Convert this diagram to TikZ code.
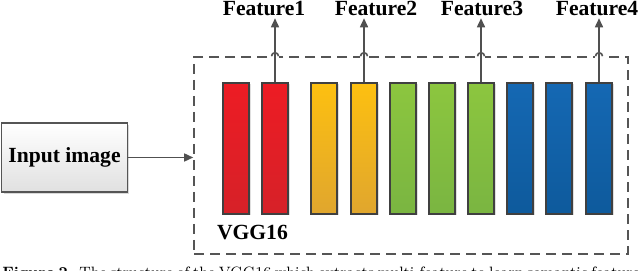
\documentclass[tikz,border=0pt]{standalone}
\usepackage{fontspec}
\newfontfamily\labelfont{Liberation Serif}
\usetikzlibrary{arrows.meta,shadows}
\definecolor{lineGray}{RGB}{80,80,80}
\definecolor{dashGray}{RGB}{85,85,85}
\definecolor{barEdge}{RGB}{64,64,64}
\definecolor{redTop}{RGB}{237,28,36}
\definecolor{redBot}{RGB}{214,33,40}
\definecolor{yellowTop}{RGB}{253,192,16}
\definecolor{yellowBot}{RGB}{224,166,46}
\definecolor{greenTop}{RGB}{140,198,63}
\definecolor{greenBot}{RGB}{122,181,65}
\definecolor{blueTop}{RGB}{21,104,179}
\definecolor{blueBot}{RGB}{14,90,156}

\begin{document}
\begin{tikzpicture}[x=0.5pt,y=-0.5pt,
    bar/.style={draw=barEdge, line width=0.6pt, inner sep=0pt,
      minimum width=13pt, minimum height=65.5pt,
      drop shadow={shadow xshift=1pt, shadow yshift=-0.5pt, opacity=0.25}},
    redbar/.style={bar, top color=redTop, bottom color=redBot},
    yellowbar/.style={bar, top color=yellowTop, bottom color=yellowBot},
    greenbar/.style={bar, top color=greenTop, bottom color=greenBot},
    bluebar/.style={bar, top color=blueTop, bottom color=blueBot},
    feat/.style={font=\labelfont\bfseries\fontsize{10.8}{13}\selectfont,
      inner sep=0pt, outer sep=1pt, anchor=base},
    inbox/.style={draw=dashGray, line width=0.6pt, top color=white,
      bottom color=black!12, minimum width=62.5pt, minimum height=34.5pt,
      font=\labelfont\bfseries\fontsize{10.8}{13}\selectfont,
      drop shadow={shadow xshift=1pt, shadow yshift=-1pt, opacity=0.3}},
    vggbox/.style={draw=dashGray, line width=0.8pt, dash pattern=on 5pt off 3pt,
      minimum width=217pt, minimum height=98.5pt, inner sep=0pt},
    link/.style={draw=lineGray, line width=0.75pt, -{Triangle[length=4.5pt,width=4pt]}},
    hop/.style={draw=dashGray, line width=0.8pt}]
    \clip (0,0) rectangle (640,271);

    % input and backbone frame
    \node[inbox] (input) at (64.5,157.5) {Input image};
    \node[vggbox] (vgg) at (411,155.5) {};
    \node[feat, anchor=base west] (vgglabel) at (215,240) {VGG16};
    \draw[link] (input.east) -- (input.east -| vgg.west);

    % convolution blocks
    \node[redbar] (c1) at (236,148.5) {};
    \node[redbar] (c2) at (275,148.5) {};
    \node[yellowbar] (c3) at (324,148.5) {};
    \node[yellowbar] (c4) at (364,148.5) {};
    \node[greenbar] (c5) at (403,148.5) {};
    \node[greenbar] (c6) at (442,148.5) {};
    \node[greenbar] (c7) at (481,148.5) {};
    \node[bluebar] (c8) at (520,148.5) {};
    \node[bluebar] (c9) at (559,148.5) {};
    \node[bluebar] (c10) at (599,148.5) {};

    % feature outputs
    \node[feat] (f1) at (264,16) {Feature1};
    \node[feat] (f2) at (376,16) {Feature2};
    \node[feat] (f3) at (482,16) {Feature3};
    \node[feat] (f4) at (597,16) {Feature4};
    \coordinate (h1) at (c2.north |- vgg.north);
    \coordinate (h2) at (c4.north |- vgg.north);
    \coordinate (h3) at (c7.north |- vgg.north);
    \coordinate (h4) at (c10.north |- vgg.north);
    \fill[white] ([xshift=-2pt,yshift=-1pt]h1) rectangle ([xshift=2pt,yshift=1pt]h1);
    \fill[white] ([xshift=-2pt,yshift=-1pt]h2) rectangle ([xshift=2pt,yshift=1pt]h2);
    \fill[white] ([xshift=-2pt,yshift=-1pt]h3) rectangle ([xshift=2pt,yshift=1pt]h3);
    \fill[white] ([xshift=-2pt,yshift=-1pt]h4) rectangle ([xshift=2pt,yshift=1pt]h4);
    \draw[link] (c2.north) -- (c2.north |- f1.south);
    \draw[link] (c4.north) -- (c4.north |- f2.south);
    \draw[link] (c7.north) -- (c7.north |- f3.south);
    \draw[link] (c10.north) -- (c10.north |- f4.south);
    \draw[hop] ([xshift=-1.75pt]h1) arc[start angle=180, end angle=0, radius=1.75pt];
    \draw[hop] ([xshift=-1.75pt]h2) arc[start angle=180, end angle=0, radius=1.75pt];
    \draw[hop] ([xshift=-1.75pt]h3) arc[start angle=180, end angle=0, radius=1.75pt];
    \draw[hop] ([xshift=-1.75pt]h4) arc[start angle=180, end angle=0, radius=1.75pt];

    % caption, cut by the lower edge
    \node[anchor=base west, inner sep=0pt, font=\fontsize{7.5}{9}\selectfont] (caption) at (2,278)
      {\makebox[318pt][s]{\textbf{Figure 2.} The structure of the VGG16 which extracts multi-feature to learn semantic feature extraction}};
\end{tikzpicture}
\end{document}
